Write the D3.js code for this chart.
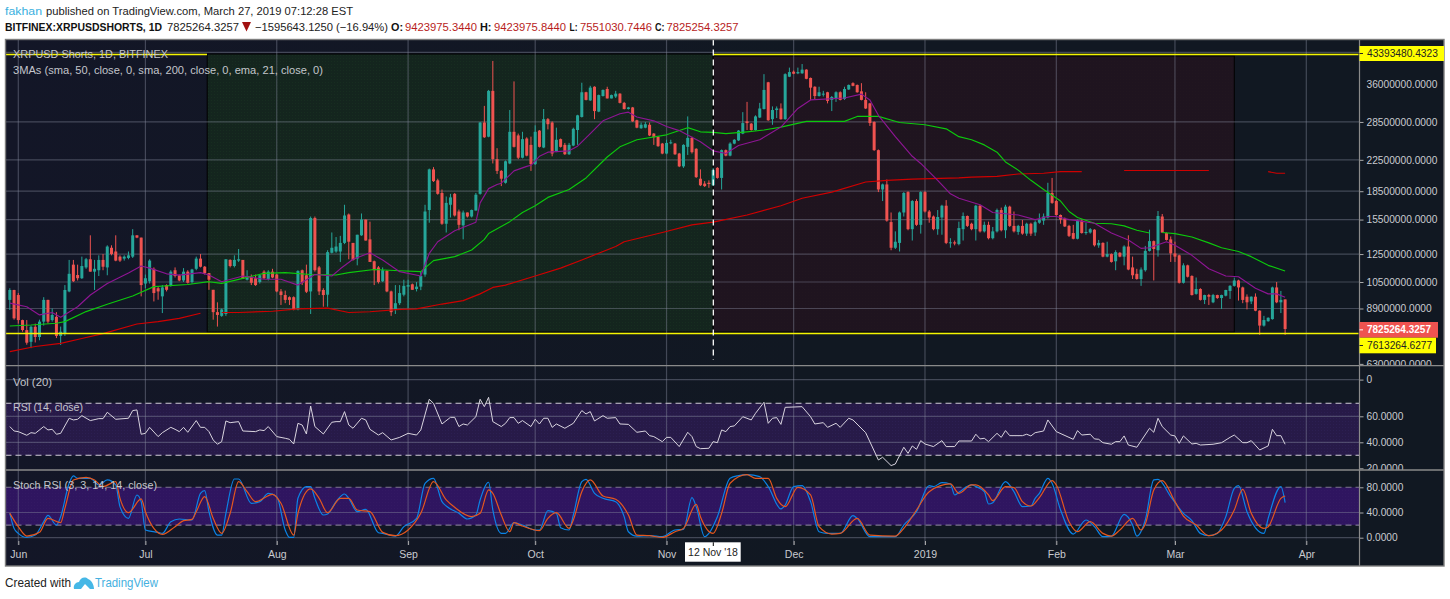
<!DOCTYPE html>
<html><head><meta charset="utf-8">
<script src="https://d3js.org/d3.v7.min.js"></script>
<style>
html,body{margin:0;padding:0;background:#fff;overflow:hidden}
svg{display:block}
text{font-family:"Liberation Sans",Arial,sans-serif}
</style></head><body>
<svg id="c" width="1450" height="599"></svg>
<script>
// ---- data (prices in millions, rows are open, high, low, close) ----
const priceUnit = 1e6;
const firstCandleDay = -2; // days after 1 Jun 2018
const mayCandles = [[9.39,10.1,8.82,9.99],[9.99,10,8.3,8.37]];
const junCandles = [[9.68,9.8,8.1,8.28],[8.28,8.3,7.7,7.78],[7.78,8.28,7.1,7.19],[7.23,8,6.95,7.94],[7.94,8.1,7.2,7.45],[7.45,8.3,7.3,8.2],[8.2,9.55,8,9.39],[9.39,9.4,8.1,8.2],[8.28,8.9,8.2,8.55],[8.45,8.7,7.4,7.5],[7.5,7.95,7.09,7.7],[7.6,10.3,7.5,9.99],[9.9,12.05,9.85,11.05],[11.7,12.05,10.5,10.55],[10.97,11.7,10.6,10.75],[10.75,12.3,10.7,11.6],[11.5,12.2,11.4,12.1],[12.1,14.05,11.2,11.2],[11.2,12.05,9.99,11.4],[11.3,12.4,10.9,12.05],[12.05,12.5,11.3,11.55],[11.5,13.2,10.95,13.1],[13,13.2,12.4,12.5],[12.7,14.05,11.95,12],[12.3,12.4,11.9,12],[12.15,12.4,12,12.3],[12.2,12.7,12.1,12.4],[12.3,14.6,12.2,14.05],[14.05,14.05,13.8,13.85],[13.85,13.85,9.6,10.3]];
const julCandles = [[10.4,11,10.1,10.75],[10.55,12.1,10.4,12],[11.4,11.5,9.3,9.8],[10.1,10.2,9.4,9.9],[9.6,10.3,8.65,10.15],[10.3,10.35,9.9,10],[10.3,11.3,10.2,11.2],[11.3,11.5,10.8,10.9],[10.95,11,10.55,10.6],[10.6,11.45,10.5,11.2],[11.2,11.3,10.4,10.45],[10.5,11.4,10.4,11.35],[11.4,12.3,11.3,12.15],[12.15,12.5,11.5,11.55],[11.55,11.6,11,11.1],[11.1,11.1,10,10.65],[10,10,8.3,8.7],[8.7,9.25,7.95,8.55],[8.5,8.9,8.45,8.85],[8.6,12.1,8.5,12.1],[12.05,12.1,11.5,11.6],[11.6,12.4,11.5,12.05],[12,12.9,11.9,12.1],[12.05,12.05,10.7,10.7],[10.65,11.3,10.6,10.9],[10.85,11,10.3,10.45],[10.75,11,10.25,10.3],[10.5,11,10.4,10.95],[11.2,11.3,10.7,10.75],[10.7,11.3,10.6,11.2],[11.2,11.4,10.75,10.8]];
const augCandles = [[11,11.05,9.85,9.9],[9.9,10.05,9.1,9.68],[9.68,9.95,9.2,9.39],[9.55,9.6,9.1,9.39],[9.55,9.6,8.8,8.85],[8.85,11.3,8.8,11.25],[11.3,11.35,10.3,10.45],[10.95,11.7,9.8,9.88],[9.9,15.8,8.6,15.65],[15.65,15.8,11.2,11.3],[11.5,11.6,9.68,9.9],[9.99,10.1,9,9.68],[9.7,12.8,9,12.65],[12.6,14.3,12.55,13],[12.7,13.9,12.6,13.1],[12.7,14,11.9,13.4],[13.4,17,13.3,15.9],[16,16.1,12.1,13.5],[13.4,13.4,12,12.05],[12.15,14.1,11.65,14.1],[14.05,16.1,14,15.5],[15.5,15.5,13.6,13.6],[13.7,15.3,11.9,11.9],[11.95,12,10.3,11.3],[11.5,11.6,10.4,10.5],[10.55,11.5,10.5,11.3],[11.25,11.3,9.85,9.9],[9.9,9.95,8.5,8.7],[8.85,10.3,8.6,9.2],[9.2,10.3,9.1,9.8],[9.7,10.65,9.6,10.25]];
const sepCandles = [[10.2,10.65,8.85,10.3],[10.35,10.4,10,10],[10.05,10.5,9.9,10.2],[10.2,11.2,9.98,10.9],[11,17,10.85,16.3],[16.45,21.3,15.2,21.2],[21.2,21.5,19.6,19.7],[19.8,20,18.1,18.2],[18.3,18.7,15,15.1],[15.1,17.9,14.3,17.2],[17,18.2,15.7,17.8],[18.2,18.3,15.8,15.9],[16.3,16.5,14.5,15],[14.95,16.4,13.7,16.2],[16.2,16.2,15.7,15.8],[15.8,16.5,15.7,16.45],[16.4,18.3,16.4,18.1],[18.2,28.5,18.1,28.4],[28.4,31.5,25.8,25.9],[26,34.8,25.9,34.6],[34.6,41.7,22,22.6],[22.6,24.2,20.6,21],[21,21.1,19.1,20],[19.5,22.4,19.4,22.3],[22,30.7,21.9,26.8],[26.8,36.7,24.3,24.4],[26.2,26.5,22.6,22.8],[22.8,26.8,22.7,25.6],[25.7,25.9,23,23.1],[24.7,26,21,21.9]];
const octCandles = [[21.9,27.9,21.8,26.8],[27,27.1,24.3,24.4],[24.3,30.9,24.2,29],[29,29.2,27.2,28.1],[28.4,28.6,23,23.4],[23.7,27.5,23.6,25.5],[25.6,25.7,24.3,24.4],[24.7,25,23.2,23.3],[23.3,25,23.2,24.7],[24.6,27.5,24.5,27.3],[27.1,29.8,24.7,29.7],[29.4,36.4,29.3,34.3],[34.3,34.4,32.6,32.7],[32.6,35.7,32.5,35.3],[35.5,35.6,29,30.5],[30.4,33.8,30.3,33.7],[33.5,34.9,33.4,34.8],[35,35.5,33,33],[33,33.8,33,33.7],[33.4,34.6,33.1,34],[34,34.1,32,32.1],[32.1,32.3,30.8,30.9],[30.9,31.3,30.8,31.2],[31.2,31.3,28.5,28.6],[28.8,28.9,27.4,27.5],[27.4,28.4,27.3,28],[27.5,28.5,27.4,28.1],[28,28.4,26.1,26.2],[26.5,26.6,24.7,25.9],[26,26.1,24.4,24.5],[24.9,25,23.3,23.4]];
const novCandles = [[23.4,25.5,23.3,25],[25,25.5,24.8,25.1],[24.9,25,23.2,23.3],[23.4,23.5,21.5,21.6],[21.6,24.8,21.4,24.7],[24.4,29.5,23.2,25.8],[25.8,26,23.4,23.6],[24.1,24.2,20.1,20.2],[20,21.2,19.1,19.2],[19.4,19.7,19,19.1],[19.5,19.8,18.9,19.35],[19.2,21.4,19.1,21.1],[21.4,21.5,20,20.1],[20.1,24,18.7,23.9],[23.9,24,23,23.1],[23.1,25.1,23,24.9],[24.9,25.6,24.8,25.5],[25.4,27.1,25.3,27],[26.5,30.3,26.4,28.3],[28.6,32.3,27.1,28.3],[28.2,28.3,27,27.1],[27.1,29.7,27,29.5],[29.3,32.1,29.2,31],[30.9,38.4,30.8,34.8],[36.5,36.6,28.7,28.8],[29,31.4,28,30.7],[30.7,31.4,29.2,31],[31,32,28.9,29],[29,38.6,28.9,38.4],[37.8,40,37.7,38.9]];
const decCandles = [[39,39.3,38.4,38.5],[38.6,40,38.4,38.9],[38.6,40.9,38.5,39.5],[39.5,39.6,37.2,37.3],[37.5,37.6,32.7,35.3],[35.5,35.6,32.8,33.5],[33.5,35.5,33.4,34.3],[33.8,34.6,33.4,34],[34.3,34.4,32,32.5],[32.7,33.5,30.5,33.3],[33,34.5,32.3,34.3],[34.3,34.5,32.6,32.7],[32.9,35.5,32.7,35],[34.9,36,34.8,35.9],[36.3,36.5,35.6,35.7],[35.9,36,34.2,34.3],[34.5,36.3,32.6,32.7],[32.7,34.3,30.9,31],[32,32.1,27.8,28.3],[28.5,28.6,23.8,23.9],[23.9,24,18.4,18.7],[18.7,19.4,17.4,19.3],[19.3,19.9,15.3,15.4],[15.26,16.2,12.8,13],[13,14.4,12.9,13.5],[13.4,16.3,12.7,16.2],[16.2,18.4,15.8,18.3],[18.4,18.5,14.5,14.6],[14.6,17.5,13.6,17.4],[17.4,17.6,14.9,15],[15,18.5,14.2,18.4]];
const janCandles = [[18.4,18.5,16.2,16.3],[16.3,16.45,15.2,15.7],[15.8,15.9,14.5,14.6],[14.6,16.45,14.1,15.75],[15.7,17,14.1,16.9],[16.9,17.5,13.3,13.4],[13.4,13.8,13,13.45],[13.45,13.6,13.2,13.35],[13.3,15.3,13.2,14.7],[14.6,16.2,13.6,15.85],[15.85,15.9,14.8,14.9],[15.1,15.2,14.5,14.6],[14.6,17,13.6,16.9],[16.9,17,14.3,14.4],[14.4,15.3,14.3,15],[15,15.3,13.7,13.8],[13.8,14.8,13.7,14.4],[14.4,16.6,14.3,16.45],[16.45,16.7,14.4,14.5],[14.5,17,13.8,16.8],[16.8,16.9,14.8,14.9],[14.9,16.3,14.3,14.4],[14.35,15,14.1,14.9],[14.9,15.46,14.1,14.2],[14.2,15.2,14,15.1],[15.1,15.2,14,14.2],[14.3,15.4,14,15.25],[15.2,16.1,15.1,15.5],[15.4,16.1,15,15.8],[15.7,19.5,15.6,18.3],[18.3,20.1,17.1,17.2]];
const febCandles = [[17.4,17.5,15.9,15.95],[15.95,16,15.1,15.5],[15.55,15.7,14.8,14.85],[14.9,15,13.9,14],[14.25,15,13.7,13.75],[13.75,15.5,13.7,15.4],[15.4,15.5,14.2,14.25],[14.25,15.2,14.1,14.35],[14.3,14.7,14.2,14.6],[14.55,14.6,13.1,13.2],[13.2,13.65,13,13.4],[13.4,13.45,12.25,12.3],[12.3,13.5,12.25,12.5],[12.5,12.55,11.85,11.9],[11.95,12.8,11.3,12.65],[12.6,12.65,12.25,12.3],[12.3,13.2,11.65,13.1],[13.1,14.05,11.3,11.35],[11.5,12.3,10.7,10.95],[11.05,11.4,10.65,10.7],[10.7,11.5,10.25,11.35],[11.3,13.15,11.2,12.75],[12.75,14.55,12.7,13.55],[13.55,13.6,10.6,12.9],[12.8,16.35,12.3,15.85],[15.8,16.05,14.25,14.3],[14.25,14.3,13.6,13.65],[13.7,13.95,11.9,12.55]];
const marCandles = [[12.55,13.5,11.9,12.3],[12.4,12.45,10.4,10.45],[10.45,11.8,10.4,11.65],[11.65,11.7,10.8,10.85],[10.9,10.95,9.65,9.68],[9.75,10.8,9.7,10.05],[10.05,10.1,9.35,9.39],[9.39,9.7,9.15,9.68],[9.68,9.75,9.1,9.58],[9.25,9.75,9.2,9.68],[9.68,9.7,9.45,9.5],[9.5,9.7,8.87,9.68],[9.64,10,9.6,9.99],[9.93,10.3,9.45,10.25],[10.25,10.8,10.2,10.6],[10.6,10.65,9.35,10.15],[10.15,10.2,9.2,9.39],[9.58,9.72,8.85,9.25],[9.3,9.6,9.15,9.58],[9.58,9.78,8.75,8.78],[8.78,8.8,7.55,8],[8,8.5,7.95,8.28],[8.22,8.42,8.2,8.4],[8.33,10.2,8.3,10.15],[10.15,10.5,9.2,9.25],[9.25,9.93,8.65,9.39],[9.42,9.42,7.55,7.83]];

// moving averages: [day, value in millions]; null marks a break in the line
const sma50Points = [[-2,7.98],[3,8.03],[9,8.12],[11,8.2],[16,8.73],[21,9.14],[27,9.62],[32,10.2],[40,10.34],[45,10.52],[48,10.41],[53,10.74],[58,11.08],[63,11.13],[69,11],[75,10.97],[78,11.13],[84,11.35],[90,11.26],[95,11.2],[98,12],[103,12.3],[107,12.82],[110,13.7],[111,14.2],[116,15.3],[119,16.2],[122,16.9],[125,17.8],[130,18.7],[134,20.1],[139,22.9],[142,24.4],[146,25.5],[153,26.3],[158,27.5],[161,26.8],[164,26.7],[167,26.5],[172,26.8],[176,27.1],[180,27.6],[186,28.6],[195,28.6],[198,29.5],[203,29.5],[208,28.4],[214,28],[219,27.3],[222,26],[225,25.5],[228,24.7],[231,23.6],[233,22.2],[236,21.1],[239,19.8],[242,18.7],[246,17.4],[248,16.3],[250,15.7],[254,15.15],[258,15.1],[261,14.9],[264,14.5],[267,14.25],[268,null],[270,14.3],[273,14.2],[277,13.9],[281,13.4],[284,13],[288,12.7],[291,12.3],[295,11.65],[299,11.25]];
const sma200Points = [[-2,6.8],[4,7.02],[10,7.16],[15,7.38],[20,7.61],[28,8.08],[33,8.2],[38,8.37],[43,8.64],[44,null],[48,8.68],[52,8.68],[60,8.75],[66,8.88],[73,8.92],[78,8.68],[83,8.72],[90,8.85],[94,8.88],[100,9.15],[105,9.35],[109,9.75],[112,10.15],[115,10.3],[122,10.9],[128,11.45],[133,12.05],[141,13.1],[143,13.5],[152,14.3],[159,15],[164,15.25],[172,15.95],[180,16.9],[185,17.7],[192,18.4],[200,19.6],[205,19.8],[211,19.95],[222,20.1],[225,20.2],[231,20.3],[236,20.6],[242,20.7],[246,20.9],[251,20.9],[252,null],[261,21.05],[281,21.05],[282,null],[295,20.9],[297,20.7],[299,20.7]];
const ema21Points = [[-2,9.2],[2,9],[5,8.55],[8,8.68],[10,8.43],[14,9],[17,9.68],[21,10.4],[26,11.1],[29,11.6],[31,11.45],[35,11.05],[38,10.96],[43,11.13],[45,10.97],[48,10.52],[53,10.9],[58,10.68],[62,10.68],[66,10.3],[70,11],[74,10.9],[76,11.4],[79,12.1],[83,12.6],[86,12.05],[90,11.2],[95,10.9],[97,12.55],[99,13.5],[103,14.45],[108,15.25],[109,17.2],[111,18.8],[113,19.3],[114,19.45],[117,21],[120,21.6],[121,21.75],[123,23],[125,23.6],[130,23.8],[132,24.5],[135,26.5],[138,28.7],[142,30],[144,30.3],[146,29.4],[150,28.7],[153,27.7],[156,27],[161,25.2],[164,23.8],[167,23.4],[170,24.6],[175,25.5],[180,27.6],[184,31],[187,32.7],[195,33.1],[199,33.9],[201,32.7],[203,29.7],[207,26],[211,23],[213,22],[217,19.8],[220,18.2],[222,17.7],[227,17],[230,16.2],[236,15.95],[240,15.5],[243,15.8],[245,15.8],[248,15.5],[250,15.4],[254,15.15],[258,14.25],[262,13.65],[265,12.95],[267,13],[271,13.5],[273,13.2],[277,12.4],[281,11.4],[285,10.9],[288,10.85],[292,10.1],[295,9.75],[297,9.75],[299,9.55]];

const rsiPoints = [[-2,52.1],[-1,48.7],[0,48.2],[2,45.4],[3,47.4],[4,46.9],[6,52.1],[7,49.5],[8,50],[9,46.2],[10,46.9],[12,58.5],[13,57.2],[14,57.7],[15,60.5],[17,56.7],[19,58.2],[20,58.2],[21,63.1],[23,57.7],[26,58.5],[27,64.4],[28,64.9],[29,46.2],[30,46.9],[31,51.5],[33,44.4],[34,47.4],[36,51.5],[37,50],[38,48.2],[39,51.5],[40,47.7],[42,56.7],[43,51.5],[44,51.5],[45,48.2],[46,41.8],[47,38.5],[48,40.5],[49,56.4],[50,55.1],[52,55.9],[53,48.7],[56,48.2],[57,49.5],[58,49],[59,52.1],[61,44.4],[63,43.1],[64,42.3],[65,38.7],[66,54.6],[67,53.3],[68,46.4],[69,67.9],[70,52.1],[72,46.4],[74,55.4],[75,55.9],[76,55.9],[77,63.6],[78,53.3],[79,50.8],[81,58.5],[82,57.2],[83,50],[85,45.6],[86,47.4],[88,41.8],[90,43.8],[92,46.9],[94,45.6],[95,49.5],[97,73.1],[98,70],[100,54.1],[102,59.2],[103,59.2],[104,52.1],[105,54.1],[106,53.3],[108,59.7],[109,73.1],[110,67.4],[111,74.6],[112,55.9],[114,52.1],[115,54.6],[116,59],[117,59],[118,54.6],[119,56.7],[121,52.1],[122,57.7],[123,54.1],[124,58.5],[125,58.5],[126,51.5],[127,54.1],[129,50.8],[131,54.6],[133,64.4],[134,61.8],[135,63.6],[136,56.4],[138,60.5],[139,58.5],[141,59],[142,54.1],[144,53.8],[146,47.7],[148,48.7],[149,45.1],[150,44.4],[152,40.5],[153,43.8],[154,43.8],[156,36.7],[158,47.7],[159,44.4],[160,36.7],[161,35.1],[163,35.4],[164,40.5],[165,39.7],[166,49.5],[167,48.2],[168,52.1],[169,52.6],[171,59.7],[173,57.2],[174,62.3],[176,70.8],[177,54.6],[178,58.5],[179,59],[180,53.8],[181,66.9],[185,67.4],[187,59.7],[188,54.1],[190,55.1],[191,51.5],[193,54.6],[194,51.5],[196,58.5],[197,57.2],[200,47.4],[203,26.4],[204,28.5],[206,22.1],[207,23.3],[209,36.2],[210,31.5],[211,37.2],[212,34.6],[213,41.3],[214,38.7],[216,36.7],[218,41.3],[219,36.7],[221,36.7],[222,41],[225,41],[226,46.2],[227,42.6],[228,43.1],[229,40.5],[231,46.9],[232,43.8],[233,49],[234,45.1],[237,45.1],[238,46.2],[239,44.9],[240,47.4],[242,48.7],[243,57.2],[245,48.2],[249,42.3],[250,49],[251,45.6],[253,46.2],[254,42.6],[255,42.3],[256,39.7],[258,38.5],[259,40.5],[260,40.5],[261,44.9],[262,37.9],[264,36.2],[267,50.8],[268,47.7],[269,58.5],[270,52.1],[272,45.6],[273,44.9],[274,39.2],[275,44.9],[277,38.7],[278,39.2],[279,37.9],[282,38.5],[284,39.7],[286,43.8],[287,45.6],[289,39.7],[290,39.7],[291,41.3],[293,34.1],[295,37.2],[296,50],[297,45.1],[298,45.1],[299,38.5]];
const stochKPoints = [[-2,38.7],[-1,14.8],[0,6.9],[2,0.5],[4,4.2],[6,25.4],[7,35.5],[9,20.1],[10,33.4],[12,86.4],[13,98],[14,94.3],[17,94.3],[19,83.7],[21,91.7],[23,83.7],[24,49.3],[26,30.7],[28,67.8],[29,57.2],[30,12.2],[33,8.5],[34,6.9],[36,25.4],[38,29.7],[41,28.1],[43,70.5],[44,74.7],[45,41.3],[47,4.2],[48,4.2],[49,38.7],[51,93.2],[52,93.2],[55,54.6],[57,57.2],[59,70.5],[61,65.2],[63,12.2],[64,0.5],[65,0.5],[66,62.5],[68,81.1],[69,81.1],[70,62.5],[72,36],[73,37.6],[75,57.2],[77,69.4],[78,62.5],[80,41.3],[82,45],[85,7.9],[86,6.9],[89,2.6],[91,17.5],[94,30.7],[96,86.4],[98,94.3],[100,57.2],[101,50.3],[104,38.7],[106,29.7],[108,36],[109,59.9],[111,88],[112,44],[114,6.9],[115,6.9],[117,23.8],[119,20.1],[122,12.2],[123,12.2],[125,42.9],[127,38.7],[128,15.9],[130,12.2],[131,36],[133,89],[134,92.7],[136,70.5],[138,62.5],[141,57.2],[143,33.4],[144,9.5],[146,2.6],[149,3.2],[152,1.6],[155,12.2],[157,13.2],[159,63.6],[160,49.3],[162,1.6],[163,6.9],[165,33.4],[168,94.3],[170,98.5],[172,100],[175,97],[177,81.1],[180,45.6],[181,51.9],[183,81.1],[185,82.6],[187,57.2],[189,9.5],[191,6.9],[194,6.9],[197,35],[198,30.7],[201,1.6],[207,1.6],[209,20.1],[212,41.3],[215,82.6],[216,81.1],[218,87.4],[220,85.3],[221,67.8],[222,72],[225,83.7],[226,81.1],[228,73.1],[229,53.5],[230,55.6],[233,89],[235,73.1],[237,49.3],[239,50.3],[240,62.5],[241,70.5],[243,94.3],[244,86.4],[246,44],[249,5.8],[252,28.1],[254,17.5],[256,1.6],[258,2.6],[261,37.1],[263,20.1],[264,2.6],[266,28.1],[268,91.7],[269,92.7],[272,65.2],[275,38.7],[277,27],[279,6.9],[281,3.2],[283,6.9],[285,33.4],[287,78.4],[288,82.6],[290,41.3],[294,6.9],[295,30.7],[298,81.1],[299,55.6]];
const stochDPoints = [[-2,38.7],[0,17.5],[2,2.6],[5,8.5],[7,30.7],[10,23.8],[11,46.6],[13,91.7],[16,95.9],[18,91.7],[20,81.1],[23,89],[24,62.5],[26,39.7],[29,61.5],[30,41.3],[32,14.8],[34,5.3],[37,17.5],[39,27],[41,29.1],[42,41.3],[44,65.2],[46,30.7],[48,6.9],[50,38.7],[52,89],[54,73.1],[56,57.2],[60,68.9],[62,54.6],[65,4.2],[66,38.7],[69,77.4],[71,62.5],[73,39.7],[76,62.5],[78,62.5],[80,44],[83,41.3],[86,8.5],[89,3.2],[92,12.2],[95,38.7],[98,89],[101,59.9],[103,48.2],[107,33.4],[109,38.7],[111,75.8],[112,70.5],[114,36],[116,9.5],[117,23.8],[119,18.5],[123,11.1],[125,30.7],[127,39.7],[130,14.8],[131,28.1],[133,73.1],[135,91.7],[138,66.2],[141,60.9],[144,36],[146,4.2],[149,3.2],[152,0.5],[155,9.5],[157,14.8],[160,53],[161,33.4],[164,6.9],[166,38.7],[168,86.4],[172,100],[174,94.3],[177,94.3],[179,62.5],[181,49.3],[184,80],[187,67.8],[189,17.5],[192,5.8],[194,6.9],[198,30.7],[201,4.2],[207,2.6],[209,14.8],[212,44],[215,73.1],[220,85.3],[222,70.5],[225,83.7],[226,83.7],[229,67.8],[230,58.8],[233,81.1],[235,79.5],[237,57.2],[239,50.3],[241,63.6],[244,90.6],[245,83.7],[248,25.4],[250,9.5],[253,25.4],[256,6.9],[258,2.6],[260,12.2],[263,30.7],[265,12.2],[266,21.7],[268,75.8],[270,90.6],[273,57.2],[275,34.4],[278,20.1],[281,3.2],[284,12.2],[287,44],[289,76.8],[291,38.7],[294,14.8],[295,17.5],[298,62.5],[299,66.2]];

const monthTicks = ["2018-06-01","2018-07-01","2018-08-01","2018-09-01","2018-10-01","2018-11-01","2018-12-01","2019-01-01","2019-02-01","2019-03-01","2019-04-01"];
const monthLabels = ["Jun","Jul","Aug","Sep","Oct","Nov","Dec","2019","Feb","Mar","Apr"];
const priceLabelTicks = [36e6,28.5e6,22.5e6,18.5e6,15.5e6,12.5e6,10.5e6,8.9e6,6.3e6];
const priceGridTicks = [44e6,28.5e6,22.5e6,18.5e6,15.5e6,12.5e6,10.5e6,8.9e6];
const rsiTicks = [60,40,20];
const stochTicks = [80,40,0];
const hlineTop = 43393480.4323, hlineBottom = 7613264.6277, lastClose = 7825264.3257;
const greenZone = ["2018-07-15T14:00Z","2018-11-12"], redZone = ["2018-11-12","2019-03-15"];

// ---- drawing ----
const svg = d3.select("#c");
const L=5.5,T=39.5,R=1444,B=566,AX=1359.5,P1=365.7,P2=470;
const TEAL="#26a69a",RED="#ef5350";
const day0 = new Date(Date.UTC(2018,5,1));
const toDate = d=>d3.utcDay.offset(day0,d);
const x = d3.scaleUtc().domain([day0,new Date(Date.UTC(2019,3,1))]).range([18.3,1306.3]);
const xd = d=>x(toDate(d));
const yP = d3.scaleLog().domain([10.5e6,36e6]).range([282,84.5]);
const yV = d3.scaleLinear().domain([0,1]).range([379.6,370]);
const yR = d3.scaleLinear().domain([60,40]).range([416.3,442.3]);
const yS = d3.scaleLinear().domain([80,0]).range([487.3,537.7]);

const defs = svg.append("defs");
const bg = defs.append("linearGradient").attr("id","bg");
bg.append("stop").attr("offset",0).attr("stop-color","#131627");
bg.append("stop").attr("offset",.55).attr("stop-color","#111822");
bg.append("stop").attr("offset",1).attr("stop-color","#111822");
function speck(id,base,dot){
  const p=defs.append("pattern").attr("id",id).attr("width",3).attr("height",3).attr("patternUnits","userSpaceOnUse");
  p.append("rect").attr("width",3).attr("height",3).attr("fill",base);
  p.append("rect").attr("x",1).attr("y",1).attr("width",1).attr("height",1).attr("fill",dot);
}
speck("gz","#14251e","#172d20");
speck("rz","#1f141f","#21161f");
speck("rb","#271a48","#2c1f52");
speck("sb","#2f1560","#331963");
[["price",T,P1],["rsi",P1,P2],["stoch",P2,B]].forEach(([id,a,b])=>{
  defs.append("clipPath").attr("id","clip-"+id).append("rect").attr("x",L).attr("y",a).attr("width",R-L).attr("height",b-a);
});

svg.append("rect").attr("x",L).attr("y",T).attr("width",R-L).attr("height",B-T).attr("fill","url(#bg)");

// background zones
const zone=(z,id,top)=>svg.append("rect").attr("x",x(new Date(z[0]))).attr("y",top)
  .attr("width",x(new Date(z[1]))-x(new Date(z[0]))).attr("height",332-top)
  .attr("fill","url(#"+id+")").attr("stroke","#000").attr("stroke-width",1);
zone(greenZone,"gz",54);
zone(redZone,"rz",56);

// indicator bands
svg.append("rect").attr("x",L).attr("width",AX-L).attr("y",yR(70)).attr("height",yR(30)-yR(70)).attr("fill","url(#rb)");
svg.append("rect").attr("x",L).attr("width",AX-L).attr("y",yS(80)).attr("height",yS(20)-yS(80)).attr("fill","url(#sb)");

// grid
const gridC="rgba(135,140,160,.42)";
const grid=svg.append("g").attr("stroke",gridC).attr("stroke-width",1.2);
const monthDates=monthTicks.map(s=>new Date(s));
grid.selectAll(".v").data(monthDates).join("line").attr("x1",d=>x(d)).attr("x2",d=>x(d)).attr("y1",T).attr("y2",545);
const hline=(y)=>grid.append("line").attr("x1",L).attr("x2",AX).attr("y1",y).attr("y2",y);
priceGridTicks.forEach(v=>hline(yP(v)));
hline(yV(0));
rsiTicks.slice(0,2).forEach(v=>hline(yR(v)));
stochTicks.slice(1).forEach(v=>hline(yS(v)));

// dashed limits
const dash=(y,c)=>svg.append("line").attr("x1",L).attr("x2",AX).attr("y1",y).attr("y2",y)
  .attr("stroke",c).attr("stroke-width",1.1).attr("stroke-dasharray","6 4");
dash(yR(70),"#cfcbd6");dash(yR(30),"#cfcbd6");dash(yS(80),"#7d7690");dash(yS(20),"#7d7690");

// candles
const allCandles=[...mayCandles,...junCandles,...julCandles,...augCandles,...sepCandles,...octCandles,...novCandles,...decCandles,...janCandles,...febCandles,...marCandles];
const candles=allCandles.map((r,i)=>({d:firstCandleDay+i,o:r[0]*priceUnit,h:r[1]*priceUnit,l:r[2]*priceUnit,c:r[3]*priceUnit}));
const cg=svg.append("g").attr("clip-path","url(#clip-price)");
const col=c=>c.c>=c.o?TEAL:RED;
cg.selectAll(".w").data(candles).join("line").attr("x1",c=>xd(c.d)).attr("x2",c=>xd(c.d))
  .attr("y1",c=>yP(c.h)).attr("y2",c=>yP(c.l)).attr("stroke",col).attr("stroke-width",1);
cg.selectAll(".b").data(candles).join("rect").attr("x",c=>xd(c.d)-1.5).attr("width",3)
  .attr("y",c=>yP(Math.max(c.o,c.c))).attr("height",c=>Math.max(1,Math.abs(yP(c.o)-yP(c.c)))).attr("fill",col);

// lines
const lineP=d3.line().defined(p=>p[1]!==null).x(p=>xd(p[0])).y(p=>yP(p[1]*priceUnit));
const path=(g,data,gen,c,w)=>g.append("path").datum(data).attr("d",gen).attr("fill","none").attr("stroke",c).attr("stroke-width",w).attr("stroke-linejoin","round");
path(cg,sma200Points,lineP,"#cf0000",1.15);
path(cg,sma50Points,lineP,"#0cc90c",1.15);
path(cg,ema21Points,lineP,"#8d1593",1.15);
const rg=svg.append("g").attr("clip-path","url(#clip-rsi)");
path(rg,rsiPoints,d3.line().x(p=>xd(p[0])).y(p=>yR(p[1])),"#d9d4df",1);
const sg=svg.append("g").attr("clip-path","url(#clip-stoch)");
const lineS=d3.line().curve(d3.curveMonotoneX).x(p=>xd(p[0])).y(p=>yS(p[1]));
path(sg,stochKPoints,lineS,"#0b83e6",1.2);
path(sg,stochDPoints,lineS,"#e4571e",1.2);

// horizontal yellow lines & crosshair
const yl=(a,b,y)=>svg.append("line").attr("x1",a).attr("x2",b).attr("y1",y).attr("y2",y).attr("stroke","#f5f500").attr("stroke-width",1.4);
yl(L,207,yP(hlineTop));yl(713.3,AX-1,yP(hlineTop));yl(L,AX-1,yP(hlineBottom));
svg.append("line").attr("x1",713.3).attr("x2",713.3).attr("y1",T).attr("y2",360).attr("stroke","#fff").attr("stroke-width",1.3).attr("stroke-dasharray","6 4");

// axes
const fmt=d3.format(".4f");
const styleAxis=g=>{g.select(".domain").remove();
  g.selectAll("line").attr("stroke","#aaa").attr("stroke-width",1);
  g.selectAll("text").attr("fill","#c9cbd0").attr("font-size",10.2).attr("font-family",'"Liberation Sans",Arial,sans-serif');};
const priceAxis=svg.append("g").attr("transform",`translate(${AX},0)`).attr("clip-path","url(#clip-price-ax)")
  .call(d3.axisRight(yP).tickValues(priceLabelTicks).tickFormat(fmt).tickSize(4).tickPadding(3)).call(styleAxis);
priceAxis.selectAll(".tick").filter(d=>d===36e6).select("line").remove();
defs.append("clipPath").attr("id","clip-price-ax").append("rect").attr("x",0).attr("y",T).attr("width",90).attr("height",P1-T);
defs.append("clipPath").attr("id","clip-rsi-ax").append("rect").attr("x",0).attr("y",P1).attr("width",90).attr("height",P2-P1);
svg.append("g").attr("transform",`translate(${AX},0)`).call(d3.axisRight(yV).tickValues([0]).tickFormat(d3.format("d")).tickSize(4).tickPadding(3)).call(styleAxis);
svg.append("g").attr("transform",`translate(${AX},0)`).attr("clip-path","url(#clip-rsi-ax)")
  .call(d3.axisRight(yR).tickValues(rsiTicks).tickFormat(fmt).tickSize(4).tickPadding(3)).call(styleAxis);
svg.append("g").attr("transform",`translate(${AX},0)`).call(d3.axisRight(yS).tickValues(stochTicks).tickFormat(fmt).tickSize(4).tickPadding(3)).call(styleAxis);
const labelByDate=new Map(monthDates.map((d,i)=>[+d,monthLabels[i]]));
svg.append("g").attr("transform","translate(0,541)")
  .call(d3.axisBottom(x).tickValues(monthDates).tickFormat(d=>labelByDate.get(+d)).tickSize(4).tickPadding(6)).call(styleAxis)
  .selectAll("text").attr("font-size",10.5);

// frame + separators
svg.append("line").attr("x1",AX).attr("x2",AX).attr("y1",T).attr("y2",B).attr("stroke","#8a8a8a").attr("stroke-width",1.2);
[P1,P2].forEach(y=>svg.append("line").attr("x1",L).attr("x2",R).attr("y1",y).attr("y2",y).attr("stroke","#8a8a8a").attr("stroke-width",1.3));
svg.append("rect").attr("x",L).attr("y",T).attr("width",R-L).attr("height",B-T).attr("fill","none").attr("stroke","#7d7d7d").attr("stroke-width",1.4);

// price tags
function tag(y0,y1,xr,fill,txt,tc,bold){
  svg.append("rect").attr("x",AX).attr("y",y0).attr("width",xr-AX).attr("height",y1-y0).attr("fill",fill);
  svg.append("line").attr("x1",AX).attr("x2",AX+3.5).attr("y1",(y0+y1)/2).attr("y2",(y0+y1)/2).attr("stroke",tc).attr("stroke-width",1);
  svg.append("text").attr("x",1367).attr("y",(y0+y1)/2+3.6).attr("font-size",bold?10:10.2).attr("fill",tc).attr("font-weight",bold?"bold":"normal").text(txt);
}
tag(46,61,1444,"#ffff00",fmt(hlineTop),"#222");
tag(322,337.7,1438,RED,fmt(lastClose),"#fff",true);
tag(337.7,353.3,1436,"#ffff00",fmt(hlineBottom),"#222");

// pane titles
const title=(t,y,len)=>svg.append("text").attr("x",13).attr("y",y).attr("font-size",11).attr("fill","#c3c5cb").attr("textLength",len).attr("lengthAdjust","spacingAndGlyphs").text(t);
title("XRPUSD Shorts, 1D, BITFINEX",58,155);
title("3MAs (sma, 50, close, 0, sma, 200, close, 0, ema, 21, close, 0)",74,310);
title("Vol (20)",386,39);
title("RSI (14, close)",411,70);
title("Stoch RSI (3, 3, 14, 14, close)",489,144);

// crosshair date label
svg.append("rect").attr("x",685).attr("y",542.3).attr("width",55.7).attr("height",19.4).attr("fill","#fff");
svg.append("line").attr("x1",713.3).attr("x2",713.3).attr("y1",542.3).attr("y2",546).attr("stroke","#000");
svg.append("text").attr("x",713).attr("y",556).attr("text-anchor","middle").attr("font-size",10.5).attr("fill","#222").text("12 Nov '18");

// header
const hdr=(t,xp,y,len,c,w)=>svg.append("text").attr("x",xp).attr("y",y).attr("font-size",w?10.6:11.2).attr("fill",c).attr("font-weight",w||"normal")
  .attr("textLength",len).attr("lengthAdjust","spacingAndGlyphs").text(t);
hdr("fakhan",5,15,37,"#39b0e0");
hdr("published on TradingView.com, March 27, 2019 07:12:28 EST",46,15,307,"#222");
hdr("BITFINEX:XRPUSDSHORTS, 1D",5,31,157,"#111","bold");
hdr("7825264.3257",167,31,72,"#222");
svg.append("path").attr("d",d3.line()([[242,22],[251,22],[246.5,31.5]])+"Z").attr("fill","#a11111");
hdr("−1595643.1250 (−16.94%)",255,31,133,"#222");
const dark="#b71c1c";
hdr("O:",391,31,12,"#111","bold");hdr("9423975.3440",405,31,72,dark);
hdr("H:",480,31,11.5,"#111","bold");hdr("9423975.8440",494,31,72,dark);
hdr("L:",569.5,31,8,"#111","bold");hdr("7551030.7446",580,31,72,dark);
hdr("C:",655,31,9.5,"#111","bold");hdr("7825254.3257",666.5,31,72,dark);

// footer
svg.append("text").attr("x",5).attr("y",587).attr("font-size",12).attr("fill","#222").attr("textLength",66).attr("lengthAdjust","spacingAndGlyphs").text("Created with");
svg.append("path").attr("d","M74 589 C73 585 76 582 79 582 C80 578 85 576 88 579 C91 580 94 584 94 589 L90 589 L85 584 L81 589 Z").attr("fill","#45b7e6");
svg.append("text").attr("x",95).attr("y",587).attr("font-size",12.2).attr("fill","#45b0e0").attr("textLength",63).attr("lengthAdjust","spacingAndGlyphs").text("TradingView");
</script>
</body></html>
